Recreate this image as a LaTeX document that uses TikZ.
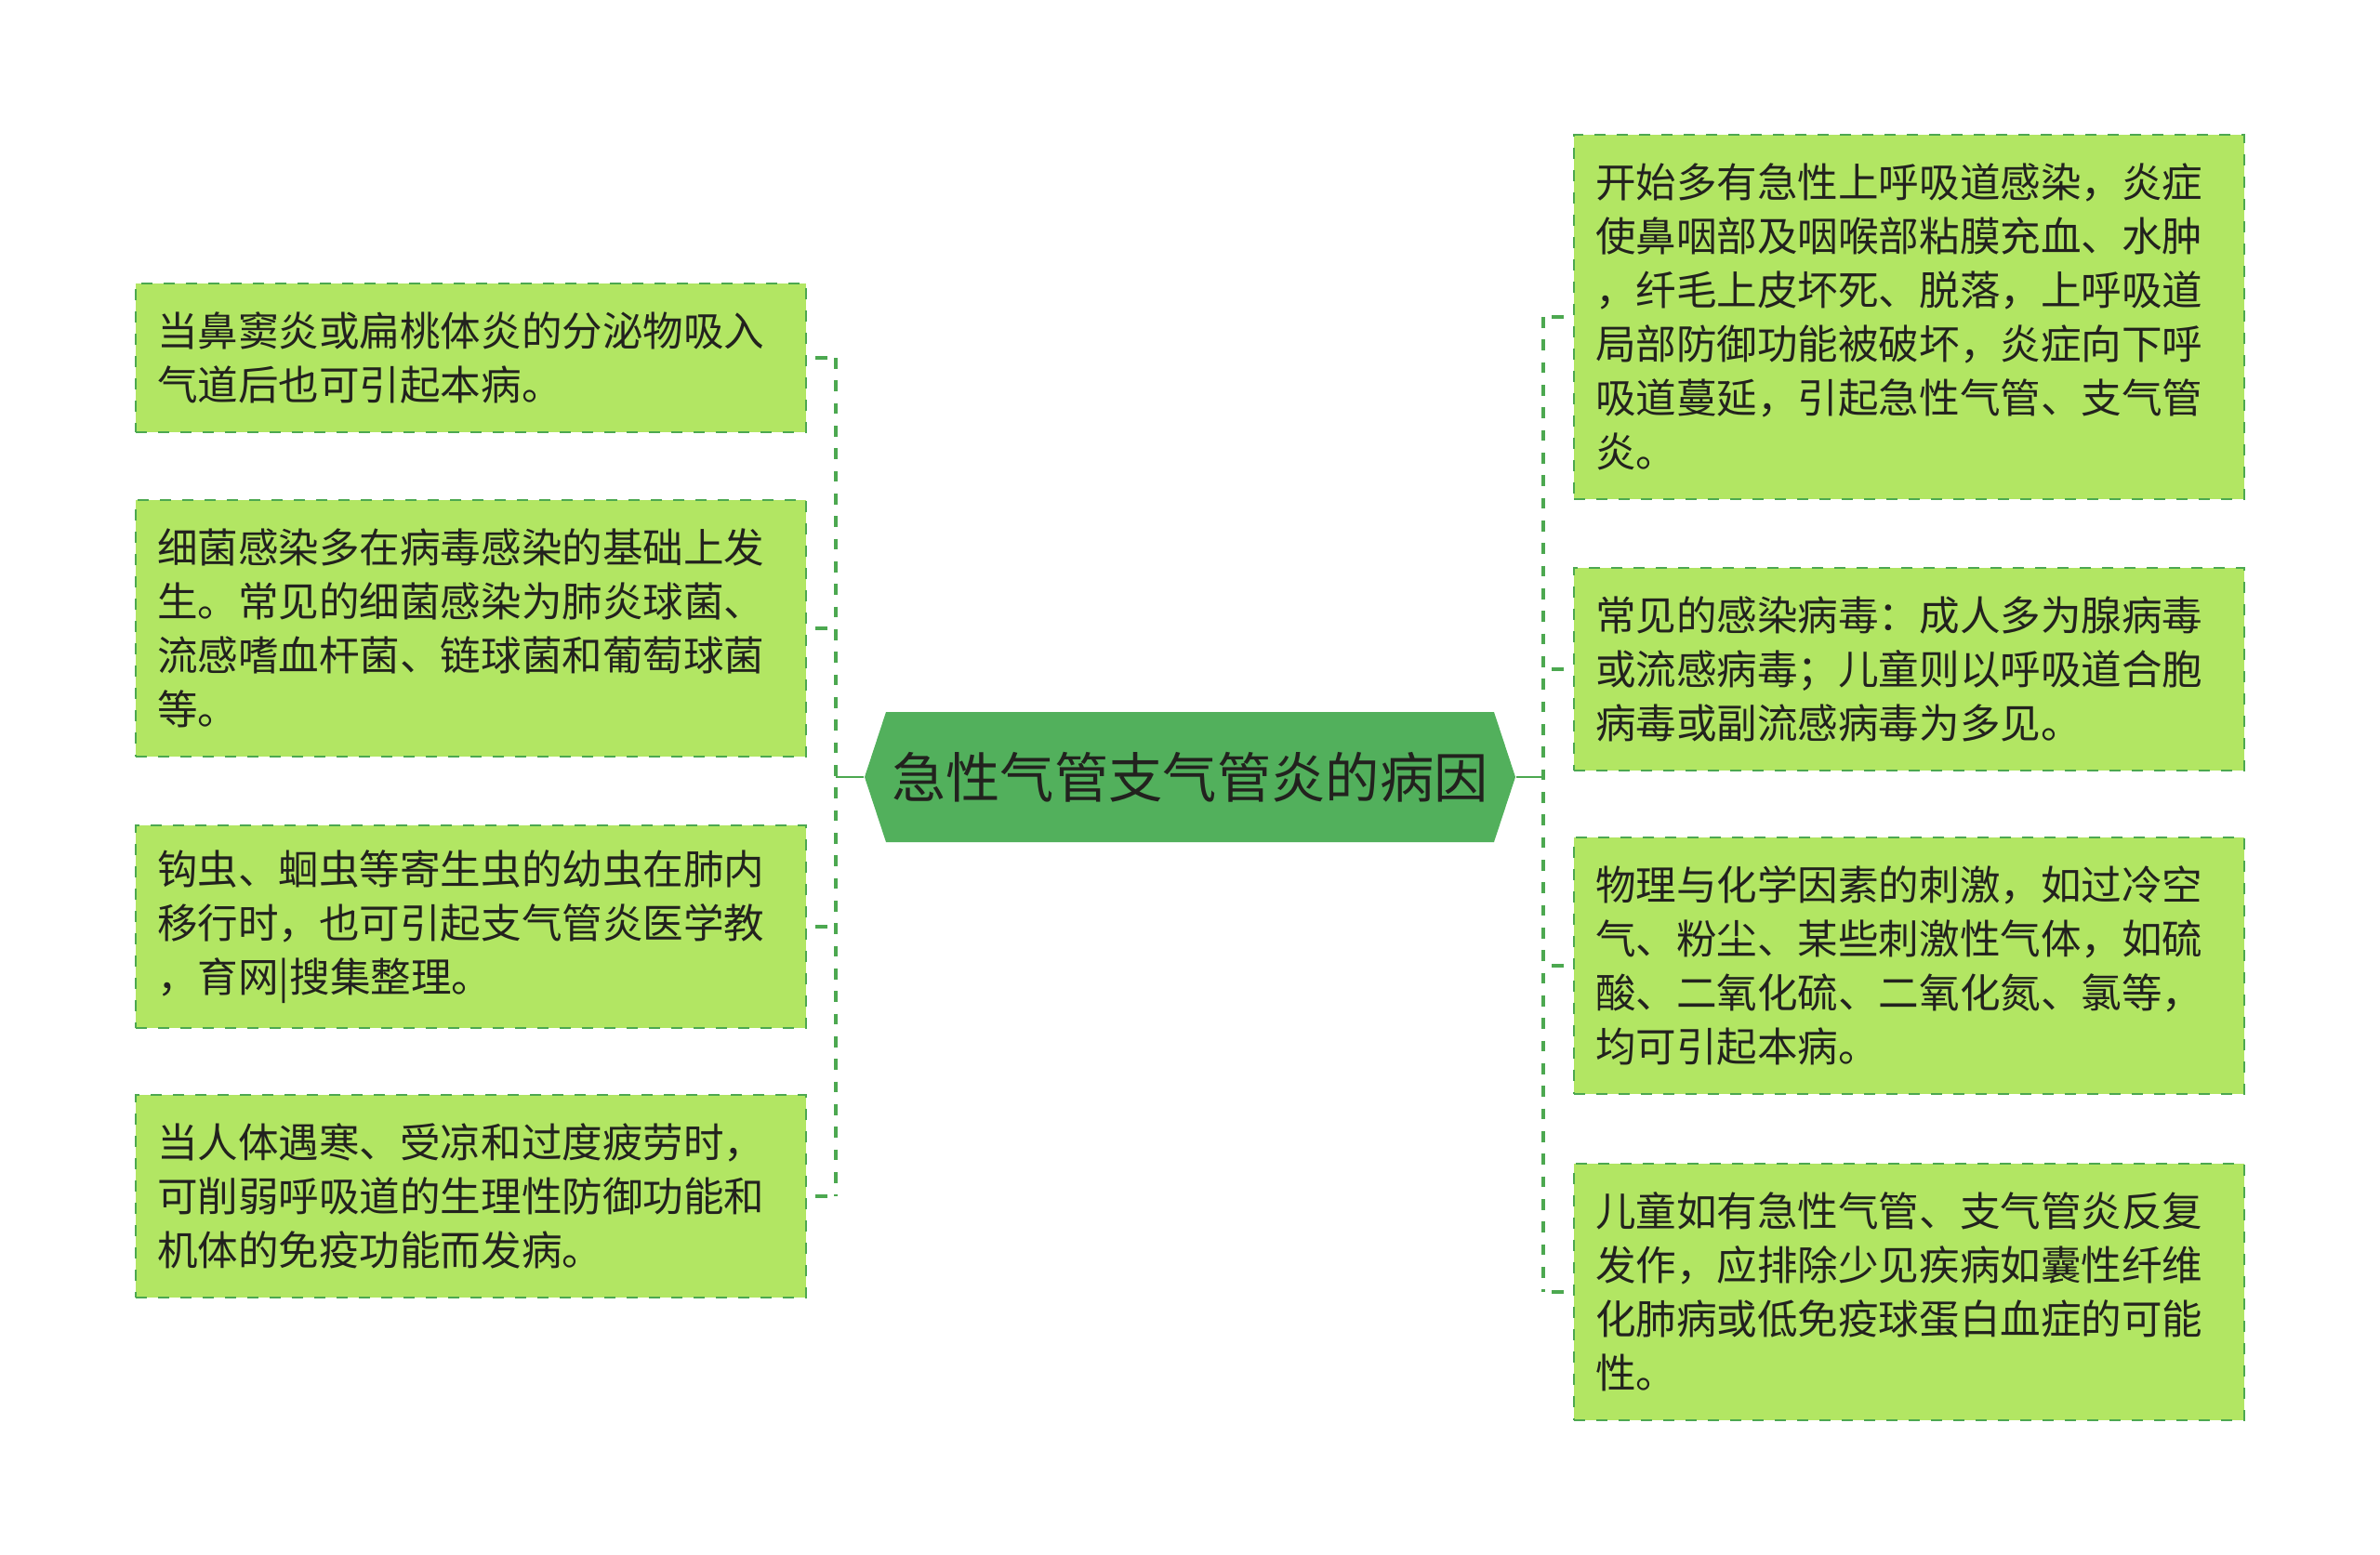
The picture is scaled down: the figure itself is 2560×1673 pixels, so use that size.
\documentclass[tikz,border=0pt]{standalone}
\usepackage{fontspec}
\setmainfont{Noto Sans CJK SC}
\usetikzlibrary{shapes.symbols}
\definecolor{leaffill}{RGB}{178,230,99}
\definecolor{linegreen}{RGB}{76,168,80}
\definecolor{rootfill}{RGB}{82,176,92}
\definecolor{inktext}{RGB}{34,34,30}
\begin{document}
\begin{tikzpicture}[x=0.3pt,y=-0.3pt,
  leaf/.style={draw=linegreen,fill=leaffill,line width=0.6pt,dash pattern=on 3.6pt off 3.6pt,anchor=west,text width=202.5pt,inner xsep=6.9pt,inner ysep=0pt,align=left,text=inktext,font=\fontsize{13.07}{17.4}\selectfont},
  root/.style={signal,signal to=west and east,signal pointer angle=143.6,fill=rootfill,text=inktext,minimum width=210pt,minimum height=42pt,inner sep=0pt,font=\fontsize{17.5}{21}\selectfont},
  spine/.style={linegreen,line width=1.3pt,dash pattern=on 3.5pt off 3.8pt},
  tick/.style={linegreen,line width=1pt,dash pattern=on 3.9pt off 6pt,dash phase=7.2pt},
  stem/.style={linegreen,line width=0.7pt}]
\useasboundingbox (0,0) rectangle (2560,1673);
\node[root] (root) at (1280,836) {急性气管支气管炎的病因};
\node[leaf,minimum height=48pt] (l1) at (145,385) {当鼻窦炎或扁桃体炎的分泌物吸入\\气道后也可引起本病。};
\node[leaf,minimum height=82.8pt] (l2) at (145,676) {细菌感染多在病毒感染的基础上发\\生。常见的细菌感染为肺炎球菌、\\流感嗜血杆菌、链球菌和葡萄球菌\\等。};
\node[leaf,minimum height=65.4pt] (l3) at (145,997) {钩虫、蛔虫等寄生虫的幼虫在肺内\\移行时，也可引起支气管炎医学教\\，育网|搜集整理。};
\node[leaf,minimum height=65.4pt] (l4) at (145,1287) {当人体遇寒、受凉和过度疲劳时，\\可削弱呼吸道的生理性防御功能和\\机体的免疫功能而发病。};
\node[leaf,minimum height=117.6pt] (r1) at (1692,341) {开始多有急性上呼吸道感染，炎症\\使鼻咽部及咽喉部粘膜充血、水肿\\，纤毛上皮坏死、脱落，上呼吸道\\局部防御功能被破坏，炎症向下呼\\吸道蔓延，引起急性气管、支气管\\炎。};
\node[leaf,minimum height=65.4pt] (r2) at (1692,720) {常见的感染病毒：成人多为腺病毒\\或流感病毒；儿童则以呼吸道合胞\\病毒或副流感病毒为多见。};
\node[leaf,minimum height=82.8pt] (r3) at (1692,1039) {物理与化学因素的刺激，如过冷空\\气、粉尘、某些刺激性气体，如硫\\酸、二氧化硫、二氧化氮、氯等，\\均可引起本病。};
\node[leaf,minimum height=82.8pt] (r4) at (1692,1390) {儿童如有急性气管、支气管炎反复\\发作，应排除少见疾病如囊性纤维\\化肺病或低免疫球蛋白血症的可能\\性。};
\coordinate (sl) at (899,836);
\coordinate (sr) at (1660,836);
\draw[spine] (l1.east -| sl) -- (l4.east -| sl);
\draw[spine] (r1.west -| sr) -- (r4.west -| sr);
\draw[stem] (root.west) -- (sl);
\draw[stem] (root.east) -- (sr);
\foreach \n in {l1,l2,l3,l4} \draw[tick] (\n.east -| sl) -- (\n.east);
\foreach \n in {r1,r2,r3,r4} \draw[tick] (\n.west -| sr) -- (\n.west);
\end{tikzpicture}
\end{document}
